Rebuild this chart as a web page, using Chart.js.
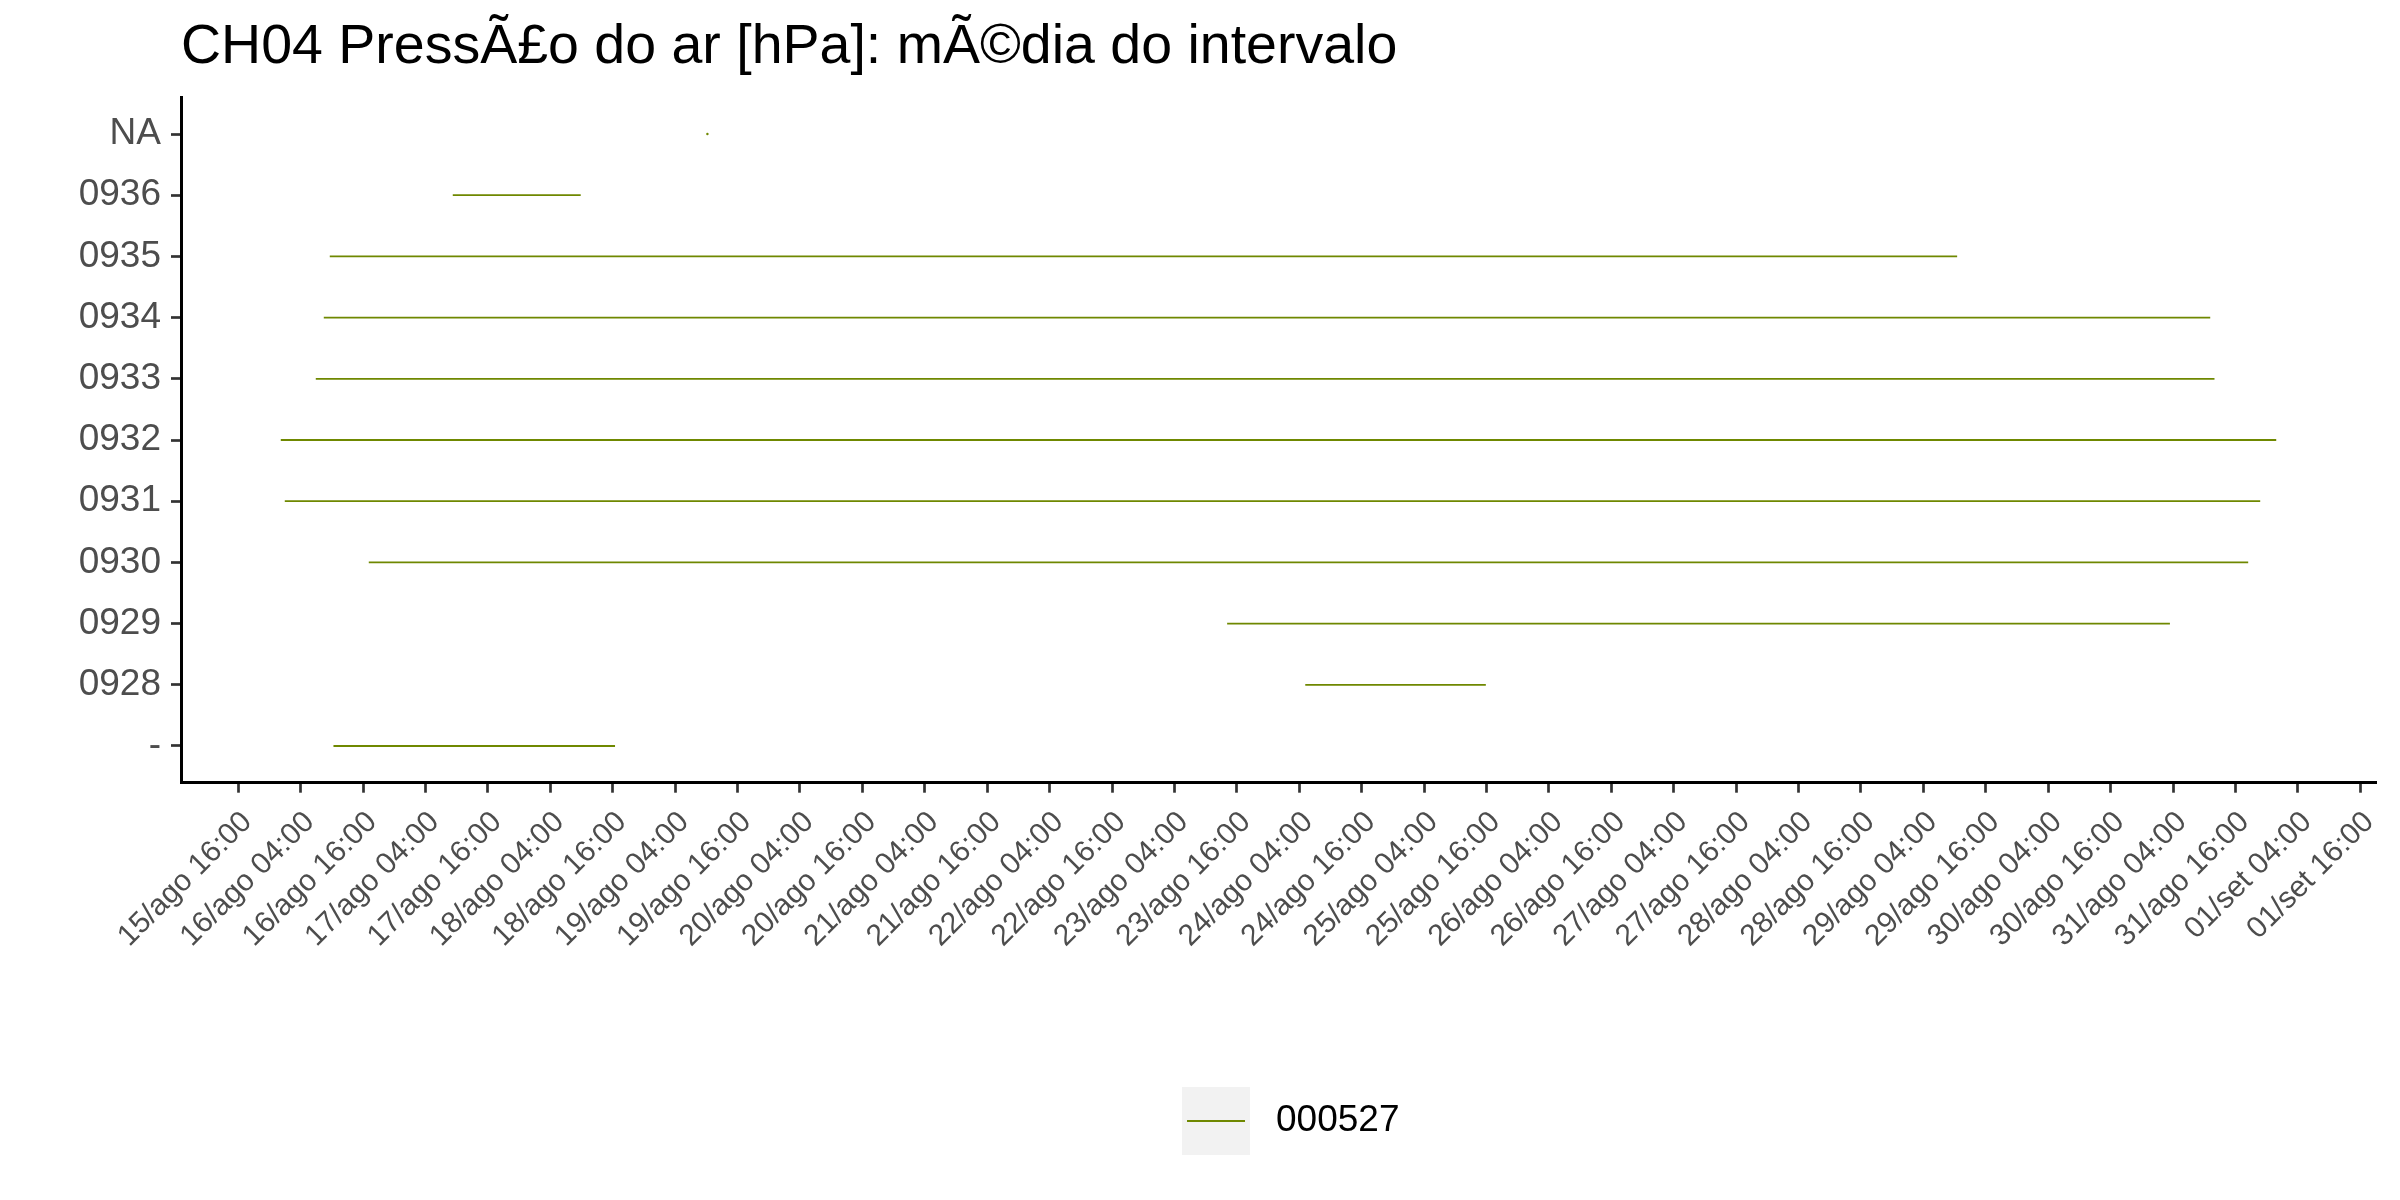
<!DOCTYPE html>
<html>
<head>
<meta charset="utf-8">
<script src="https://cdn.jsdelivr.net/npm/chart.js@4.4.0/dist/chart.umd.min.js"></script>
<style>
  html, body { margin: 0; padding: 0; background: #ffffff; }
  #wrap { width: 2400px; height: 1200px; }
</style>
</head>
<body>
<div id="wrap"><canvas id="c" width="2400" height="1200"></canvas></div>
<script>
// ---- data ----
const titleText = 'CH04 PressÃ£o do ar [hPa]: mÃ©dia do intervalo';
const seriesName = '000527';
// y categories, from the bottom of the axis to the top
const categories = ['-', '0928', '0929', '0930', '0931', '0932', '0933', '0934', '0935', '0936', 'NA'];
// interval start / end for each category, in hours since 15/ago 00:00
const startHours = [34.3, 221.15, 206.13, 41.09, 24.94, 24.17, 30.90, 32.44, 33.59, 57.24, 106.2];
const endHours   = [88.44, 255.87, 387.40, 402.45, 404.76, 407.84, 395.97, 395.15, 346.49, 81.84, 106.2];
// x tick labels (every 12 h starting at 15/ago 16:00)
const xTickLabels = [
  '15/ago 16:00', '16/ago 04:00', '16/ago 16:00', '17/ago 04:00', '17/ago 16:00',
  '18/ago 04:00', '18/ago 16:00', '19/ago 04:00', '19/ago 16:00', '20/ago 04:00',
  '20/ago 16:00', '21/ago 04:00', '21/ago 16:00', '22/ago 04:00', '22/ago 16:00',
  '23/ago 04:00', '23/ago 16:00', '24/ago 04:00', '24/ago 16:00', '25/ago 04:00',
  '25/ago 16:00', '26/ago 04:00', '26/ago 16:00', '27/ago 04:00', '27/ago 16:00',
  '28/ago 04:00', '28/ago 16:00', '29/ago 04:00', '29/ago 16:00', '30/ago 04:00',
  '30/ago 16:00', '31/ago 04:00', '31/ago 16:00', '01/set 04:00', '01/set 16:00'
];
const firstTickHour = 16;
const tickStepHours = 12;

// ---- styling ----
const lineColor = '#6F8800';
const FAMILY = "'Liberation Sans', Arial, Helvetica, sans-serif";
Chart.defaults.font.family = FAMILY;

// ---- derived structures ----
const points = [];
categories.forEach((c, i) => {
  points.push({ x: startHours[i], y: i });
  points.push({ x: endHours[i], y: i });
  points.push({ x: endHours[i], y: null });
});
const allX = startHours.concat(endHours);
const dMin = Math.min(...allX), dMax = Math.max(...allX);
const dRange = dMax - dMin;
const xMin = dMin - 0.05 * dRange;
const xMax = dMax + 0.05 * dRange;

const LEG_BOXW = 100, LEG_FONT = 37, KEY = 68;
const legendKeyPlugin = {
  id: 'legendKey',
  afterDraw(chart) {
    const lg = chart.legend;
    if (!lg || !lg.legendHitBoxes || !lg.legendHitBoxes.length) return;
    const hb = lg.legendHitBoxes[0];
    const textX = hb.left + LEG_BOXW + LEG_FONT / 2;
    const x0 = textX - 94;
    const y0 = hb.top + (hb.height - KEY) / 2;
    const ctx = chart.ctx;
    ctx.save();
    ctx.fillStyle = '#F2F2F2';
    ctx.fillRect(x0, y0, KEY, KEY);
    ctx.strokeStyle = lineColor;
    ctx.lineWidth = 1.8;
    ctx.beginPath();
    ctx.moveTo(x0 + 5, y0 + KEY / 2);
    ctx.lineTo(x0 + KEY - 5, y0 + KEY / 2);
    ctx.stroke();
    ctx.restore();
  }
};

const axisGrid = {
  display: true, drawOnChartArea: false, drawTicks: true,
  tickLength: 10, tickWidth: 2.7, tickColor: '#333333'
};
const axisBorder = { display: true, color: '#000000', width: 3 };

new Chart(document.getElementById('c'), {
  type: 'line',
  data: {
    datasets: [{
      label: seriesName,
      data: points,
      borderColor: lineColor,
      backgroundColor: lineColor,
      borderWidth: 1.8,
      spanGaps: false,
      tension: 0,
      fill: false,
      pointRadius: (ctx) => {
        const k = Math.floor(ctx.dataIndex / 3);
        return (startHours[k] === endHours[k] && ctx.dataIndex % 3 === 0) ? 1.2 : 0;
      },
      pointBorderWidth: 0,
      pointBackgroundColor: lineColor,
      pointHoverRadius: 0
    }]
  },
  options: {
    responsive: false,
    animation: false,
    events: [],
    devicePixelRatio: 1,
    layout: { padding: { top: 0, left: 0, right: 24, bottom: 35 } },
    scales: {
      x: {
        type: 'linear',
        min: xMin, max: xMax,
        afterBuildTicks: (s) => { s.ticks = xTickLabels.map((l, i) => ({ value: firstTickHour + tickStepHours * i })); },
        afterFit: (s) => { s.height = 294.3; },
        ticks: {
          callback: (v, i) => xTickLabels[i],
          autoSkip: false, minRotation: 45, maxRotation: 45,
          font: { size: 30, family: FAMILY }, color: '#4D4D4D',
          padding: 12, labelOffset: 9
        },
        grid: axisGrid,
        border: axisBorder
      },
      y: {
        type: 'linear',
        min: -0.6, max: 10.6,
        afterBuildTicks: (s) => { s.ticks = categories.map((c, i) => ({ value: i })); },
        afterFit: (s) => { s.width = 181; },
        ticks: {
          callback: (v) => categories[v],
          autoSkip: false,
          font: { size: 37, family: FAMILY }, color: '#4D4D4D',
          padding: 10
        },
        grid: axisGrid,
        border: axisBorder
      }
    },
    plugins: {
      title: {
        display: true, text: titleText, align: 'start', fullSize: false,
        color: '#000000',
        font: { size: 55.5, weight: 'normal', family: FAMILY, lineHeight: 1.2 },
        padding: { top: 14.5, bottom: 16.2 }
      },
      legend: {
        display: true, position: 'bottom', fullSize: false, align: 'center',
        labels: {
          boxWidth: LEG_BOXW, boxHeight: KEY, padding: 10,
          color: '#000000',
          font: { size: LEG_FONT, family: FAMILY },
          generateLabels: () => [{
            text: seriesName, fillStyle: 'rgba(0,0,0,0)', strokeStyle: 'rgba(0,0,0,0)',
            lineWidth: 0, hidden: false, datasetIndex: 0, fontColor: '#000000'
          }]
        }
      },
      tooltip: { enabled: false }
    }
  },
  plugins: [legendKeyPlugin]
});
</script>
</body>
</html>
